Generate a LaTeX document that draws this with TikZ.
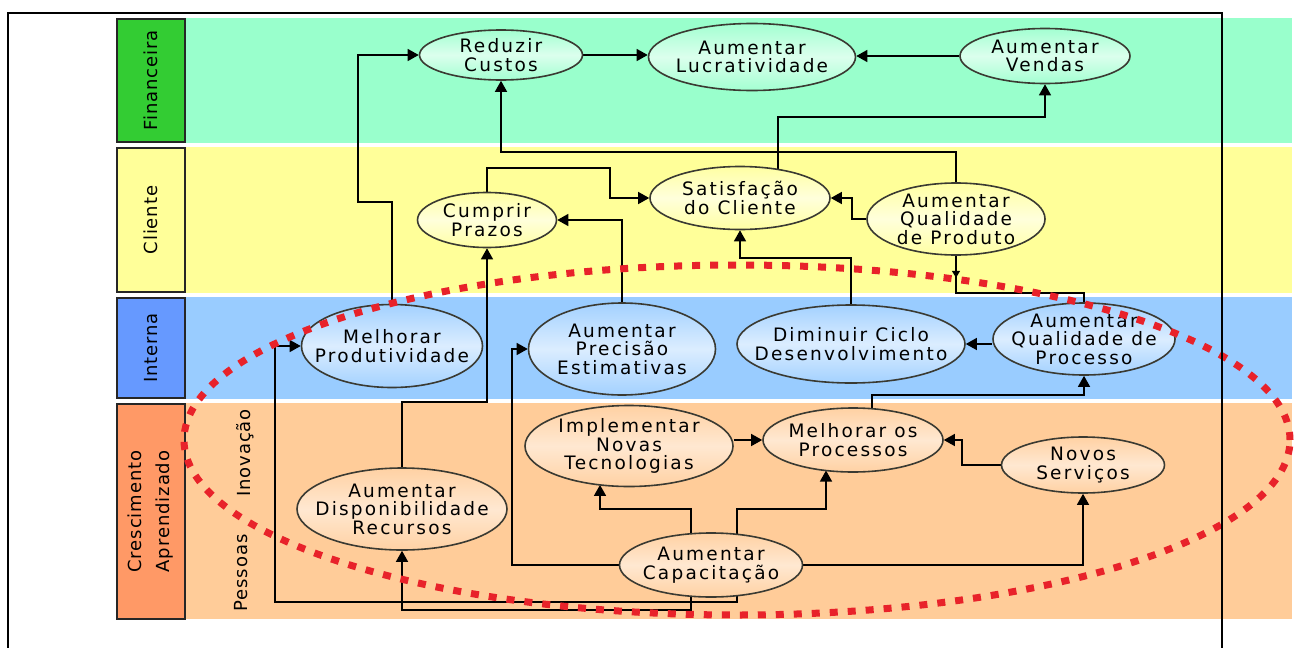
\documentclass[tikz,border=0pt]{standalone}
\usepackage{fontspec}
\setmainfont{DejaVu Sans}
\newfontfamily\nodefont[LetterSpace=12]{DejaVu Sans}
\newfontfamily\bandfont[LetterSpace=5]{DejaVu Sans}
\usetikzlibrary{shapes.geometric,arrows.meta,calc}
\pgfdeclarelayer{bands}
\pgfdeclarelayer{lines}
\pgfdeclarelayer{front}
\pgfsetlayers{bands,lines,main,front}
\definecolor{finband}{HTML}{99FFCC}
\definecolor{finlab}{HTML}{33CC33}
\definecolor{cliband}{HTML}{FFFF99}
\definecolor{intband}{HTML}{99CCFF}
\definecolor{intlab}{HTML}{6699FF}
\definecolor{creband}{HTML}{FFCC99}
\definecolor{crelab}{HTML}{FF9966}
\definecolor{redot}{HTML}{E8222A}
\definecolor{ellborder}{HTML}{3A3A32}
\tikzset{
  ell/.style={ellipse, draw=ellborder, line width=1.6pt, inner xsep=-80pt, inner ysep=-50pt,
    align=center, font=\nodefont\fontsize{18.5}{18.5}\selectfont},
  efin/.style={ell, top color=finband!90!white, bottom color=finband!90!white, middle color=finband!35!white},
  ecli/.style={ell, top color=cliband!90!white, bottom color=cliband!90!white, middle color=cliband!35!white},
  eint/.style={ell, top color=intband!90!white, bottom color=intband!90!white, middle color=intband!35!white},
  ecre/.style={ell, top color=creband!90!white, bottom color=creband!90!white, middle color=creband!45!white},
  conn/.style={line width=1.4pt, draw=black},
  arr/.style={conn, -{Triangle[length=11pt,width=12pt]}},
  arrsmall/.style={conn, -{Triangle[length=7pt,width=8pt]}},
  labbox/.style={draw=black!85, line width=2pt, rotate=90, inner sep=0pt,
    font=\bandfont\fontsize{18}{28}\selectfont, align=center, minimum height=68pt},
  sidetext/.style={rotate=90, font=\bandfont\fontsize{18}{22}\selectfont},
  redring/.style={draw=redot, line width=7pt, dash pattern=on 8pt off 10pt},
}
\begin{document}
\begin{tikzpicture}[x=1pt,y=-1pt]
\useasboundingbox (0,0) rectangle (1296,648);

% bands
\begin{pgfonlayer}{bands}
\fill[white] (0,0) rectangle (1296,648);
\fill[finband] (185,18) rectangle (1292,143);
\fill[cliband] (185,147) rectangle (1292,293);
\fill[intband] (185,297) rectangle (1292,399);
\fill[creband] (185,403) rectangle (1292,619);
\end{pgfonlayer}

% band labels
\node[labbox, fill=finlab, minimum width=123pt] (lfin) at (151,80.5) {Financeira};
\node[labbox, fill=cliband, minimum width=144pt] (lcli) at (151,220) {Cliente};
\node[labbox, fill=intlab, minimum width=100pt] (lint) at (151,348) {Interna};
\node[labbox, fill=crelab, minimum width=215pt] (lcre) at (151,511.5) {Crescimento\\Aprendizado};

\node[sidetext] (pes) at (241,573) {Pessoas};
\node[sidetext] (ino) at (245,453) {Inovação};

% nodes
\node[efin, minimum width=163pt, minimum height=50pt] (rc) at (501,55) {Reduzir\\Custos};
\node[efin, minimum width=207pt, minimum height=67pt] (al) at (752,57) {Aumentar\\Lucratividade};
\node[efin, minimum width=170pt, minimum height=55pt] (av) at (1045,56) {Aumentar\\Vendas};

\node[ecli, minimum width=180pt, minimum height=63pt] (sc) at (740,198) {Satisfação\\do Cliente};
\node[ecli, minimum width=139pt, minimum height=55pt] (cp) at (487,220) {Cumprir\\Prazos};
\node[ecli, minimum width=178pt, minimum height=72pt] (aqp) at (956,219) {Aumentar\\Qualidade\\de Produto};

\node[eint, minimum width=181pt, minimum height=83pt] (mp) at (392,346) {Melhorar\\Produtividade};
\node[eint, minimum width=187pt, minimum height=92pt] (ape) at (622,349) {Aumentar\\Precisão\\Estimativas};
\node[eint, minimum width=228pt, minimum height=78pt] (dcd) at (851,344) {Diminuir Ciclo\\Desenvolvimento};
\node[eint, minimum width=182pt, minimum height=72pt] (aqpr) at (1084,339) {Aumentar\\Qualidade de\\Processo};

\node[ecre, minimum width=208pt, minimum height=81pt] (inv) at (629,446) {Implementar\\Novas\\Tecnologias};
\node[ecre, minimum width=180pt, minimum height=64pt] (mop) at (853,440) {Melhorar os\\Processos};
\node[ecre, minimum width=163pt, minimum height=56pt] (ns) at (1083,465) {Novos\\Serviços};
\node[ecre, minimum width=210pt, minimum height=82pt] (adr) at (402,509) {Aumentar\\Disponibilidade\\Recursos};
\node[ecre, minimum width=183pt, minimum height=64pt] (cap) at (711,565) {Aumentar\\Capacitação};

% connectors
\begin{pgfonlayer}{lines}
\draw[arr] (mp.north) -- (392,202) -- (358,202) |- (rc.west);
\draw[arr] (rc.east) -- (rc.east -| al.west);
\draw[arr] (av.west) -- (av.west -| al.east);
\draw[arr] (aqp.north) -- (956,152) -| (rc.south);
\draw[arr] ($(sc.center)+(38,0)$) -- (778,117) -| (av.south);
\draw[arr] (cp.north) -- (487,168) -- (610,168) |- (sc.west);
\draw[arr] (aqp.west) -- (852,219) |- (sc.east);
\draw[arr] (ape.north) |- (cp.east);
\draw[arr] (dcd.north) -- (851,258) -| (sc.south);
\draw[arr] (adr.north) -- (402,402) -| (cp.south);
\draw[conn] (aqpr.north) -- (1084,293) -| (aqp.south);
\draw[arrsmall] (aqp.south) -- ++(0,22);
\draw[arr] (aqpr.west |- dcd.east) -- (dcd.east);
\draw[arr] ($(mop.center)+(19,0)$) -- (872,395) -| (aqpr.south);
\draw[arr] (inv.east |- mop.west) -- (mop.west);
\draw[arr] (ns.west) -- (962,465) |- (mop.east);
\draw[arr] ($(cap.center)+(-20,0)$) -- (691,509) -- (600,509) -- ($(inv.center)+(-29,38.9)$);
\draw[arr] ($(cap.center)+(26,0)$) -- (737,509) -- (826,509) -- ($(mop.center)+(-27,30.5)$);
\draw[arr] (cap.west) -- (512,565) |- (ape.west);
\draw[arr] (cap.east) -| (ns.south);
\draw[arr] ($(cap.center)+(26,0)$) -- (737,602) -- (275,602) |- (mp.west);
\draw[arr] ($(cap.center)+(-20,0)$) -- (691,610) -| (adr.south);
\end{pgfonlayer}

\begin{pgfonlayer}{front}
\draw[redring] (737,440) ellipse [x radius=553pt, y radius=175pt];
\draw[line width=2pt] (8,650) -- (8,13) -- (1222,13) -- (1222,650);
\end{pgfonlayer}
\end{tikzpicture}
\end{document}
